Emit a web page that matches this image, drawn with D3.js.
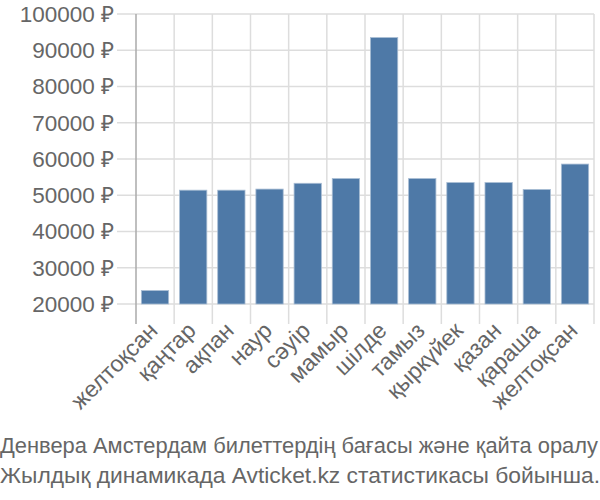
<!DOCTYPE html>
<html>
<head>
<meta charset="utf-8">
<script src="https://cdn.jsdelivr.net/npm/d3@7"></script>
<style>
  body { margin: 0; background: #fff; }
  text { font-family: "Liberation Sans", Arial, sans-serif; fill: #666; }
</style>
</head>
<body>
<script>
// months (Kazakh)
var months = ["желтоқсан", "қаңтар", "ақпан", "наур", "сәуір", "мамыр",
  "шілде", "тамыз", "қыркүйек", "қазан", "қараша", "желтоқсан"];
// average price, rubles
var prices = [23700, 51400, 51400, 51700, 53300, 54600,
  93500, 54600, 53500, 53500, 51600, 58600];
var yTicks = [20000, 30000, 40000, 50000, 60000, 70000, 80000, 90000, 100000];
var caption = ["Денвера Амстердам билеттердің бағасы және қайта оралу",
  "Жылдық динамикада Avticket.kz статистикасы бойынша."];

var width = 600, height = 500;
var plotLeft = 136, plotRight = 594, plotTop = 14, plotBottom = 304;

var svg = d3.select("body").append("svg")
  .attr("width", width)
  .attr("height", height);

var x = d3.scaleBand()
  .domain(d3.range(months.length))
  .range([plotLeft, plotRight])
  .paddingInner(0.285)
  .paddingOuter(0.14);

var y = d3.scaleLinear()
  .domain([20000, 100000])
  .range([plotBottom, plotTop]);

var step = (plotRight - plotLeft) / months.length;

// horizontal grid lines
svg.selectAll(".hgrid")
  .data(yTicks)
  .enter()
  .append("line")
  .attr("class", "hgrid")
  .attr("x1", plotLeft - 19)
  .attr("x2", plotRight)
  .attr("y1", function(d){ return y(d); })
  .attr("y2", function(d){ return y(d); })
  .style("stroke", "#ddd")
  .style("stroke-width", 1.5);

// vertical grid lines at band edges
svg.selectAll(".vgrid")
  .data(d3.range(months.length + 1))
  .enter()
  .append("line")
  .attr("class", "vgrid")
  .attr("x1", function(d){ return plotLeft + d * step; })
  .attr("x2", function(d){ return plotLeft + d * step; })
  .attr("y1", plotTop)
  .attr("y2", plotBottom + 20)
  .style("stroke", function(d){ return d === 0 ? "#aaa" : "#ddd"; })
  .style("stroke-width", 1.5);

// y labels
svg.selectAll(".ylabel")
  .data(yTicks)
  .enter()
  .append("text")
  .attr("class", "ylabel")
  .attr("x", 114)
  .attr("y", function(d){ return y(d); })
  .attr("dy", "0.35em")
  .attr("text-anchor", "end")
  .style("font-size", "22.5px")
  .text(function(d){ return d + " ₽"; });

// bars
svg.selectAll(".bar")
  .data(prices)
  .enter()
  .append("rect")
  .attr("class", "bar")
  .attr("x", function(d, i){ return x(i); })
  .attr("width", x.bandwidth())
  .attr("y", function(d){ return y(d); })
  .attr("height", function(d){ return plotBottom - y(d); })
  .style("fill", "#4e79a7")
  .style("stroke", "#a9bdd4")
  .style("stroke-width", 0.8);

// x labels, rotated
svg.selectAll(".xlabel")
  .data(months)
  .enter()
  .append("text")
  .attr("class", "xlabel")
  .attr("text-anchor", "end")
  .attr("transform", function(d, i){
    return "translate(" + (x(i) + x.bandwidth() / 2 + 4) + "," + 332 + ") rotate(-45)";
  })
  .style("font-size", "23px")
  .text(function(d){ return d; });

// caption
var capWidths = [598, 600];
svg.selectAll(".caption")
  .data(caption)
  .enter()
  .append("text")
  .attr("class", "caption")
  .attr("x", 0)
  .attr("y", function(d, i){ return 453 + i * 30; })
  .attr("textLength", function(d, i){ return capWidths[i]; })
  .attr("lengthAdjust", "spacingAndGlyphs")
  .style("font-size", "22px")
  .text(function(d){ return d; });
</script>
</body>
</html>
